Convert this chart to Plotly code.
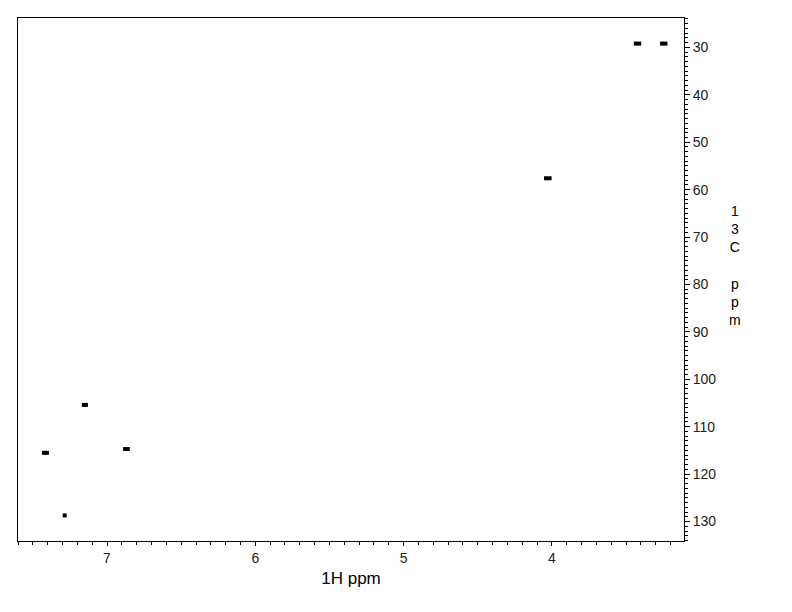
import plotly.graph_objects as go

# HSQC cross-peak contour points (1H ppm, 13C ppm)
h_ppm = [3.435, 3.412, 3.258, 3.235, 4.040, 4.016, 7.156, 7.142,
         7.425, 7.405, 6.878, 6.860, 7.285]
c_ppm = [29.2, 29.2, 29.2, 29.2, 57.6, 57.6, 105.4, 105.4,
         115.5, 115.5, 114.7, 114.7, 128.7]

x_range = [7.60, 3.11]
y_range = [134.1, 23.8]
x_ticks = [4, 5, 6, 7]
y_ticks = [30, 40, 50, 60, 70, 80, 90, 100, 110, 120, 130]

fig = go.Figure()
fig.add_trace(go.Scatter(
    x=h_ppm, y=c_ppm, mode="markers",
    marker=dict(symbol="square", size=4, color="black", line=dict(width=0)),
    showlegend=False, hoverinfo="x+y"))

font = "Liberation Sans, Arial, sans-serif"
fig.update_layout(
    width=784, height=604,
    margin=dict(l=10, r=108, t=10, b=71),
    paper_bgcolor="white", plot_bgcolor="white",
    font=dict(family=font, color="black", size=12),
    xaxis=dict(range=x_range, tickvals=x_ticks, ticks="outside", ticklen=4,
               tickcolor="black", showgrid=False, zeroline=False,
               showline=True, linecolor="black", linewidth=1, mirror=True,
               minor=dict(dtick=0.1, ticks="outside", ticklen=3, tickcolor="black"),
               tickfont=dict(size=14, family=font, color="#222"),
               title=dict(text="1H ppm", font=dict(size=17, family=font), standoff=7)),
    yaxis=dict(range=y_range, side="right", tickvals=y_ticks, ticks="outside",
               ticklen=5, tickcolor="black", showgrid=False, zeroline=False,
               showline=True, linecolor="black", linewidth=1, mirror=True,
               minor=dict(dtick=1, ticks="outside", ticklen=3, tickcolor="black"),
               tickfont=dict(size=14, family=font, color="#222")),
    annotations=[dict(text="1<br>3<br>C<br> <br>p<br>p<br>m", xref="paper", yref="paper",
                      x=(735 - 18) / 666, y=(541 - 265) / 523, showarrow=False,
                      xanchor="center", yanchor="middle",
                      font=dict(size=14, family=font, color="black"))],
)

fig.write_html("out.html")
